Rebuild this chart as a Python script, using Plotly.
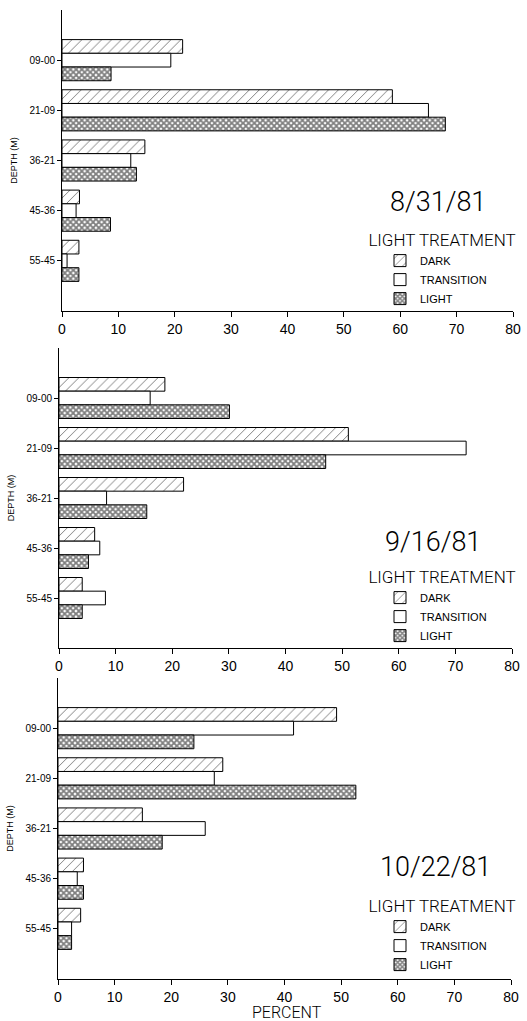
import plotly.graph_objects as go

# ---------------- data ----------------
depths = ["09-00", "21-09", "36-21", "45-36", "55-45"]
treatments = ["DARK", "TRANSITION", "LIGHT"]
dates = ["8/31/81", "9/16/81", "10/22/81"]

dark_0831 = [21.4, 58.6, 14.7, 3.1, 3.0]
trans_0831 = [19.3, 65.0, 12.2, 2.5, 0.9]
light_0831 = [8.7, 68.0, 13.2, 8.6, 3.0]

dark_0916 = [18.7, 51.1, 22.0, 6.3, 4.1]
trans_0916 = [16.1, 71.9, 8.4, 7.2, 8.2]
light_0916 = [30.1, 47.1, 15.5, 5.2, 4.1]

dark_1022 = [49.2, 29.1, 14.9, 4.5, 4.0]
trans_1022 = [41.6, 27.6, 26.0, 3.4, 2.4]
light_1022 = [24.0, 52.6, 18.4, 4.5, 2.4]

x_ticks = [0, 10, 20, 30, 40, 50, 60, 70, 80]

panels = [
    (dark_0831, trans_0831, light_0831),
    (dark_0916, trans_0916, light_0916),
    (dark_1022, trans_1022, light_1022),
]

# ---------------- layout geometry (pixels) ----------------
W, H = 527, 1021
boxes = [  # x0, x1, ytop, ybottom
    (62, 513, 10, 311),
    (59, 512, 348, 648),
    (58, 511, 678, 979),
]
date_pos = [(438, 202), (433, 542), (435, 867)]
legend_top = [224, 561, 890]

THIN = "Roboto Light, DejaVu Sans ExtraLight, Liberation Sans, sans-serif"
SANS = "Liberation Sans, Arial, sans-serif"

patterns = [
    dict(shape="/", fgcolor="black", bgcolor="white", size=7, solidity=0.14),
    dict(shape="", fgcolor="black", bgcolor="white"),
    dict(shape="x", fgcolor="black", bgcolor="white", size=4, solidity=0.7),
]

fig = go.Figure()
layout = dict(
    width=W, height=H,
    margin=dict(l=0, r=0, t=0, b=0),
    paper_bgcolor="white", plot_bgcolor="white",
    barmode="group", bargap=0.18, bargroupgap=0,
    font=dict(family=SANS, color="black"),
    annotations=[],
)

for i, series in enumerate(panels):
    n = "" if i == 0 else str(i + 1)
    legname = "legend" + n
    for j, vals in enumerate(series):
        fig.add_trace(go.Bar(
            x=vals, y=depths, orientation="h",
            name=treatments[j],
            marker=dict(color="white", line=dict(color="black", width=1),
                        pattern=patterns[j]),
            xaxis="x" + n, yaxis="y" + n,
            legend=legname,
            showlegend=True,
        ))
    x0, x1, yt, yb = boxes[i]
    layout["xaxis" + n] = dict(
        domain=[x0 / W, x1 / W], anchor="y" + n,
        range=[0, 80], tickvals=x_ticks, ticks="outside", ticklen=5,
        tickwidth=1, tickcolor="black", showline=True, linecolor="black",
        linewidth=1, showgrid=False, zeroline=False,
        tickfont=dict(size=14, family=SANS), automargin=False,
    )
    layout["yaxis" + n] = dict(
        domain=[1 - yb / H, 1 - yt / H], anchor="x" + n,
        type="category", categoryorder="array", categoryarray=depths,
        range=[5, -1], ticks="outside", ticklen=4, tickwidth=1,
        tickcolor="black", showline=True, linecolor="black", linewidth=1,
        showgrid=False, zeroline=False, tickfont=dict(size=10, family=SANS),
        automargin=False,
        title=dict(text="DEPTH (M)", font=dict(size=9, family=SANS), standoff=10),
    )
    layout[legname] = dict(
        x=442 / W, xanchor="center", y=1 - legend_top[i] / H, yanchor="top",
        bgcolor="rgba(0,0,0,0)",
        title=dict(text="LIGHT TREATMENT", side="top center",
                   font=dict(size=17, family=THIN)),
        font=dict(size=11, family=SANS),
        traceorder="normal", indentation=14,
    )
    dx, dy = date_pos[i]
    layout["annotations"].append(dict(
        text=dates[i], x=dx / W, y=1 - dy / H, xref="paper", yref="paper",
        showarrow=False, font=dict(size=27, family=THIN),
        xanchor="center", yanchor="middle",
    ))

# x-axis title of the bottom panel
layout["annotations"].append(dict(
    text="PERCENT", x=287 / W, y=1 - 1012 / H, xref="paper", yref="paper",
    showarrow=False, font=dict(size=16, family=THIN),
    xanchor="center", yanchor="middle",
))

fig.update_layout(**layout)
fig.write_html("out.html")
